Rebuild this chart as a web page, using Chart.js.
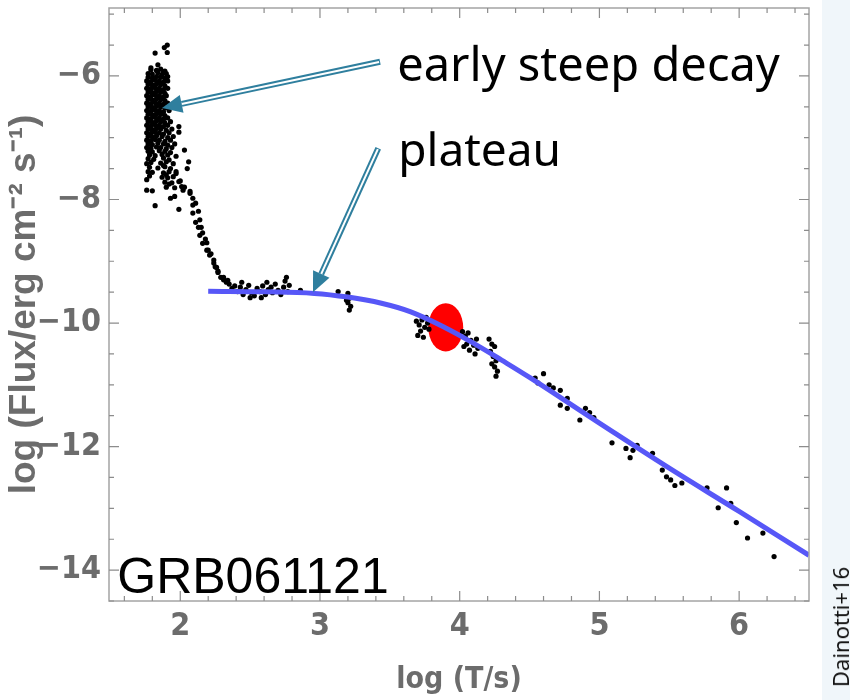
<!DOCTYPE html>
<html>
<head>
<meta charset="utf-8">
<title>GRB061121 light curve</title>
<script src="https://cdn.jsdelivr.net/npm/chart.js@4.4.1/dist/chart.umd.min.js"></script>
<style>
  html, body { margin: 0; padding: 0; background: #fff; }
  #wrap { position: relative; width: 850px; height: 700px; overflow: hidden; }
  #strip { position: absolute; left: 822px; top: 0; width: 28px; height: 700px; background: #f0f6fa; }
  #chart { position: absolute; left: 0; top: 0; }
  #credit {
    position: absolute; left: 840px; top: 627px;
    transform: translate(-50%, -50%) rotate(-90deg);
    font: 22px "Noto Sans", sans-serif; color: #111; white-space: nowrap;
  }
</style>
</head>
<body>
<div id="wrap">
  <div id="strip"></div>
  <canvas id="chart" width="850" height="700"></canvas>
  <div id="credit">Dainotti+16</div>
</div>
<script>
// axis ranges and labelled ticks (log T/s, log flux)
const xRange = [1.49, 6.5];
const yRange = [-14.5, -4.9];
const xTickLabels = [2, 3, 4, 5, 6];
const yTickLabels = [-14, -12, -10, -8, -6];

// prompt emission + early steep decay, [log T, log F]
const earlyPoints = [
  [1.886, -5.54], [1.907, -5.50], [1.907, -5.62], [1.82, -5.63], [1.84, -5.82], [1.79, -5.87], [1.88, -5.94],
  [1.79, -5.90], [1.83, -5.91], [1.86, -5.89], [1.89, -5.92],
  [1.77, -5.96], [1.80, -5.97], [1.84, -5.95], [1.87, -5.98], [1.90, -5.96],
  [1.77, -6.02], [1.80, -6.03], [1.83, -6.01], [1.86, -6.02], [1.89, -6.04], [1.91, -6.01],
  [1.76, -6.08], [1.79, -6.09], [1.82, -6.07], [1.85, -6.08], [1.88, -6.10], [1.91, -6.08],
  [1.77, -6.14], [1.80, -6.15], [1.83, -6.13], [1.86, -6.14], [1.89, -6.16],
  [1.76, -6.20], [1.79, -6.21], [1.82, -6.19], [1.85, -6.20], [1.88, -6.22], [1.91, -6.20],
  [1.77, -6.26], [1.80, -6.27], [1.83, -6.25], [1.86, -6.26], [1.89, -6.28],
  [1.76, -6.32], [1.79, -6.33], [1.82, -6.31], [1.85, -6.32], [1.88, -6.34], [1.90, -6.32],
  [1.77, -6.38], [1.80, -6.39], [1.83, -6.37], [1.86, -6.38], [1.89, -6.40],
  [1.76, -6.44], [1.79, -6.45], [1.82, -6.43], [1.85, -6.44], [1.88, -6.46], [1.91, -6.44],
  [1.77, -6.50], [1.80, -6.51], [1.83, -6.49], [1.86, -6.50], [1.89, -6.52],
  [1.76, -6.56], [1.79, -6.57], [1.82, -6.55], [1.85, -6.56], [1.88, -6.58], [1.92, -6.56],
  [1.77, -6.62], [1.80, -6.63], [1.83, -6.61], [1.86, -6.62], [1.89, -6.64],
  [1.76, -6.68], [1.79, -6.69], [1.82, -6.67], [1.85, -6.68], [1.88, -6.70], [1.91, -6.68],
  [1.77, -6.74], [1.80, -6.75], [1.83, -6.73], [1.86, -6.74], [1.89, -6.76], [1.93, -6.74],
  [1.76, -6.80], [1.79, -6.81], [1.82, -6.79], [1.85, -6.80], [1.88, -6.82], [1.91, -6.80],
  [1.77, -6.86], [1.80, -6.87], [1.83, -6.85], [1.86, -6.86], [1.90, -6.88], [1.94, -6.86],
  [1.76, -6.92], [1.79, -6.93], [1.82, -6.91], [1.85, -6.92], [1.88, -6.94], [1.92, -6.92],
  [1.77, -6.98], [1.80, -6.99], [1.83, -6.97], [1.87, -6.98], [1.91, -7.00], [1.95, -6.98],
  [1.76, -7.04], [1.79, -7.05], [1.82, -7.03], [1.85, -7.04], [1.89, -7.06], [1.93, -7.04],
  [1.77, -7.10], [1.80, -7.11], [1.84, -7.09], [1.88, -7.10], [1.91, -7.12], [1.96, -7.10],
  [1.76, -7.16], [1.79, -7.17], [1.83, -7.15], [1.86, -7.16], [1.90, -7.18], [1.94, -7.16],
  [1.77, -7.22], [1.80, -7.23], [1.85, -7.21], [1.89, -7.22], [1.93, -7.24],
  [1.78, -7.28], [1.82, -7.29], [1.87, -7.27], [1.91, -7.28], [1.97, -7.30],
  [1.77, -7.34], [1.81, -7.35], [1.88, -7.33], [1.92, -7.36],
  [1.79, -7.40], [1.86, -7.41], [1.90, -7.39], [1.95, -7.42],
  [1.78, -7.48], [1.84, -7.49], [1.89, -7.47], [1.93, -7.50],
  [1.80, -7.56], [1.88, -7.57], [1.92, -7.55], [1.97, -7.58],
  [1.87, -7.64], [1.91, -7.65], [1.95, -7.63],
  [1.89, -7.72], [1.94, -7.73], [1.99, -7.71],
  [1.90, -7.80], [1.96, -7.81], [2.01, -7.79],
  [1.76, -7.42], [1.77, -7.55], [1.76, -7.68], [1.78, -7.62], [1.76, -7.85], [1.80, -7.86], [1.82, -8.10],
  [1.88, -7.45], [1.90, -7.60], [1.92, -7.75], [1.93, -7.98], [1.96, -7.95], [1.99, -8.16],
  [2.06, -7.39], [2.05, -7.50], [1.99, -6.82], [1.99, -6.91], [2.03, -7.20]
];

// decay towards the plateau
const decayPoints = [
  [1.97, -7.55], [2.00, -7.70], [2.03, -7.80], [2.02, -7.85], [2.07, -7.87], [2.07, -7.90], [2.09, -7.98],
  [2.11, -8.06], [2.09, -8.09], [2.13, -8.19], [2.09, -8.22], [2.14, -8.33], [2.11, -8.37], [2.13, -8.45],
  [2.15, -8.45], [2.16, -8.54], [2.14, -8.58], [2.18, -8.64], [2.19, -8.70], [2.16, -8.71], [2.20, -8.82],
  [2.19, -8.82], [2.22, -8.88], [2.21, -8.90], [2.24, -8.98], [2.24, -9.03], [2.25, -9.09], [2.26, -9.10],
  [2.27, -9.16], [2.27, -9.18], [2.29, -9.26], [2.31, -9.26], [2.31, -9.30], [2.34, -9.31], [2.33, -9.34]
];

// plateau phase
const plateauPoints = [
  [2.35, -9.37], [2.37, -9.44], [2.39, -9.40], [2.41, -9.49], [2.43, -9.42], [2.45, -9.54], [2.47, -9.46],
  [2.49, -9.39], [2.51, -9.51], [2.53, -9.56], [2.55, -9.44], [2.57, -9.49], [2.59, -9.40], [2.61, -9.54],
  [2.63, -9.46], [2.65, -9.42], [2.66, -9.51], [2.68, -9.37], [2.70, -9.47], [2.72, -9.54], [2.74, -9.42],
  [2.75, -9.32], [2.76, -9.26], [2.77, -9.49], [2.78, -9.39], [2.44, -9.34], [2.58, -9.59], [2.50, -9.59],
  [2.62, -9.34], [2.86, -9.47], [3.13, -9.49],
  [3.20, -9.52], [3.21, -9.60], [3.20, -9.67], [3.22, -9.73], [3.21, -9.79], [3.19, -9.63]
];

// late power-law decay
const latePoints = [
  [3.69, -9.97], [3.71, -10.03], [3.73, -9.95], [3.75, -10.07], [3.72, -10.13], [3.70, -10.20], [3.74, -10.23],
  [3.77, -10.00], [3.78, -10.10], [3.76, -9.91],
  [4.02, -10.14], [4.04, -10.21], [4.06, -10.16], [4.08, -10.28], [4.05, -10.34], [4.10, -10.36], [4.12, -10.26],
  [4.07, -10.44], [4.13, -10.41], [4.03, -10.38], [4.11, -10.50],
  [4.21, -10.26], [4.23, -10.34], [4.25, -10.38], [4.22, -10.46], [4.24, -10.54], [4.26, -10.61], [4.25, -10.71],
  [4.27, -10.78], [4.26, -10.86], [4.23, -10.66],
  [4.54, -10.89], [4.60, -10.82], [4.56, -10.97], [4.67, -11.05], [4.64, -11.00], [4.72, -11.09], [4.77, -11.22],
  [4.72, -11.33], [4.77, -11.38], [4.86, -11.57], [4.90, -11.38], [4.93, -11.45], [4.96, -11.53], [5.09, -11.94],
  [5.19, -12.03], [5.22, -12.18], [5.24, -12.06], [5.27, -11.98], [5.38, -12.11], [5.45, -12.38], [5.48, -12.49],
  [5.51, -12.54], [5.54, -12.63], [5.59, -12.59], [5.77, -12.67], [5.85, -12.99], [5.91, -12.67], [5.94, -12.92],
  [5.98, -13.23], [6.06, -13.48], [6.17, -13.40], [6.25, -13.78]
];

// fitted curve
const fitT = [2.2, 2.6, 2.96, 3.2, 3.44, 3.65, 3.9, 4.1, 4.3, 4.5, 5.0, 5.5, 6.0, 6.5];
const fitF = [-9.485, -9.495, -9.52, -9.58, -9.68, -9.82, -10.08, -10.33, -10.60, -10.88, -11.62, -12.35, -13.05, -13.76];

// end of plateau (red ellipse): centre and half sizes in axis units
const plateauEnd = { t: 3.9, f: -10.07, dt: 0.125, df: 0.39 };

// annotations (axis units)
const arrows = [
  { from: [3.43, -5.77], to: [1.87, -6.52] },
  { from: [3.417, -7.17], to: [2.95, -9.50] }
];
const labels = [
  { text: "early steep decay", t: 3.553, f: -5.86, font: "47px 'Noto Sans', sans-serif" },
  { text: "plateau", t: 3.56, f: -7.25, font: "46px 'Noto Sans', sans-serif" },
  { text: "GRB061121", t: 1.549, f: -14.14, font: "50px 'Liberation Sans', Arial, sans-serif" }
];

const toXY = (arr) => arr.map(([x, y]) => ({ x, y }));
const tickFont = { family: "'Liberation Sans Narrow', 'Arial Narrow', 'DejaVu Sans Condensed', sans-serif", size: 32, weight: "bold" };
const grey = "#6c6c6c";

const frameAndNotes = {
  id: "frameAndNotes",
  beforeDatasetsDraw(chart) {
    const { ctx, scales: { x, y } } = chart;
    const cx = x.getPixelForValue(plateauEnd.t);
    const cy = y.getPixelForValue(plateauEnd.f);
    const rx = Math.abs(x.getPixelForValue(plateauEnd.t + plateauEnd.dt) - cx);
    const ry = Math.abs(y.getPixelForValue(plateauEnd.f + plateauEnd.df) - cy);
    ctx.save();
    ctx.fillStyle = "#ff0000";
    ctx.beginPath();
    ctx.ellipse(cx, cy, rx, ry, 0, 0, Math.PI * 2);
    ctx.fill();
    ctx.restore();
  },
  afterDatasetsDraw(chart) {
    const { ctx, chartArea: a, scales: { x, y } } = chart;
    ctx.save();
    // frame
    ctx.strokeStyle = "#a4a4a4";
    ctx.lineWidth = 1.5;
    ctx.strokeRect(a.left, a.top, a.right - a.left, a.bottom - a.top);
    // inward ticks on all sides
    ctx.strokeStyle = "#8c8c8c";
    ctx.lineWidth = 1.2;
    ctx.beginPath();
    for (let i = 8; i <= 32; i++) {
      const px = x.getPixelForValue(i / 5);
      const len = i % 5 === 0 ? 10 : 5;
      ctx.moveTo(px, a.bottom); ctx.lineTo(px, a.bottom - len);
      ctx.moveTo(px, a.top); ctx.lineTo(px, a.top + len);
    }
    for (let i = -29; i <= -10; i++) {
      const py = y.getPixelForValue(i / 2);
      const len = i % 4 === 0 ? 10 : 5;
      ctx.moveTo(a.left, py); ctx.lineTo(a.left + len, py);
      ctx.moveTo(a.right, py); ctx.lineTo(a.right - len, py);
    }
    ctx.stroke();

    // double-line arrows
    arrows.forEach(({ from, to }) => {
      const x0 = x.getPixelForValue(from[0]), y0 = y.getPixelForValue(from[1]);
      const x1 = x.getPixelForValue(to[0]), y1 = y.getPixelForValue(to[1]);
      const ang = Math.atan2(y1 - y0, x1 - x0);
      const head = 20, half = 9;
      const bx = x1 - head * Math.cos(ang), by = y1 - head * Math.sin(ang);
      ctx.lineCap = "butt";
      ctx.strokeStyle = "#2f7f9e";
      ctx.lineWidth = 6;
      ctx.beginPath(); ctx.moveTo(x0, y0); ctx.lineTo(bx, by); ctx.stroke();
      ctx.strokeStyle = "#ffffff";
      ctx.lineWidth = 2;
      ctx.beginPath(); ctx.moveTo(x0 + Math.cos(ang), y0 + Math.sin(ang)); ctx.lineTo(bx, by); ctx.stroke();
      ctx.fillStyle = "#2f7f9e";
      ctx.beginPath();
      ctx.moveTo(x1, y1);
      ctx.lineTo(bx + half * Math.sin(ang), by - half * Math.cos(ang));
      ctx.lineTo(bx - half * Math.sin(ang), by + half * Math.cos(ang));
      ctx.closePath();
      ctx.fill();
    });

    // text labels
    ctx.fillStyle = "#000";
    ctx.textBaseline = "middle";
    ctx.textAlign = "left";
    labels.forEach((l) => {
      ctx.font = l.font;
      ctx.fillText(l.text, x.getPixelForValue(l.t), y.getPixelForValue(l.f));
    });
    ctx.restore();
  }
};

new Chart(document.getElementById("chart"), {
  type: "scatter",
  data: {
    datasets: [
      {
        label: "fit",
        data: fitT.map((t, i) => ({ x: t, y: fitF[i] })),
        showLine: true,
        borderColor: "#5757f7",
        borderWidth: 5,
        pointRadius: 0,
        tension: 0.4,
        order: 0
      },
      {
        label: "data",
        data: toXY([...earlyPoints, ...decayPoints, ...plateauPoints, ...latePoints]),
        backgroundColor: "#000",
        borderWidth: 0,
        pointRadius: 2.6,
        order: 1
      }
    ]
  },
  options: {
    responsive: false,
    devicePixelRatio: 1,
    animation: false,
    layout: { padding: { left: 0, right: 41, top: 8, bottom: 0 } },
    plugins: { legend: { display: false }, tooltip: { enabled: false } },
    scales: {
      x: {
        type: "linear",
        min: xRange[0],
        max: xRange[1],
        afterFit: (s) => { s.height = 99; s.paddingLeft = 0; s.paddingRight = 0; },
        grid: { display: false, drawTicks: false },
        border: { display: false },
        ticks: {
          stepSize: 1,
          includeBounds: false,
          padding: 6,
          color: grey,
          font: tickFont,
          callback: (v) => (xTickLabels.includes(v) ? String(v) : "")
        },
        title: {
          display: true,
          text: "log (T/s)",
          color: grey,
          font: { family: tickFont.family, size: 30, weight: "bold" },
          padding: { top: 0, bottom: 2 }
        }
      },
      y: {
        type: "linear",
        min: yRange[0],
        max: yRange[1],
        afterFit: (s) => { s.width = 109; s.paddingTop = 0; s.paddingBottom = 0; },
        grid: { display: false, drawTicks: false },
        border: { display: false },
        ticks: {
          stepSize: 2,
          includeBounds: false,
          padding: 8,
          color: grey,
          font: tickFont,
          callback: (v) => (yTickLabels.includes(v) ? "\u2212" + Math.abs(v) : "")
        },
        title: {
          display: true,
          text: "log (Flux/erg cm\u207B\u00B2 s\u207B\u00B9)",
          color: grey,
          font: { family: "'Liberation Sans', Arial, sans-serif", size: 37, weight: "bold" },
          padding: { top: 3, bottom: 0 }
        }
      }
    }
  },
  plugins: [frameAndNotes]
});
</script>
</body>
</html>
